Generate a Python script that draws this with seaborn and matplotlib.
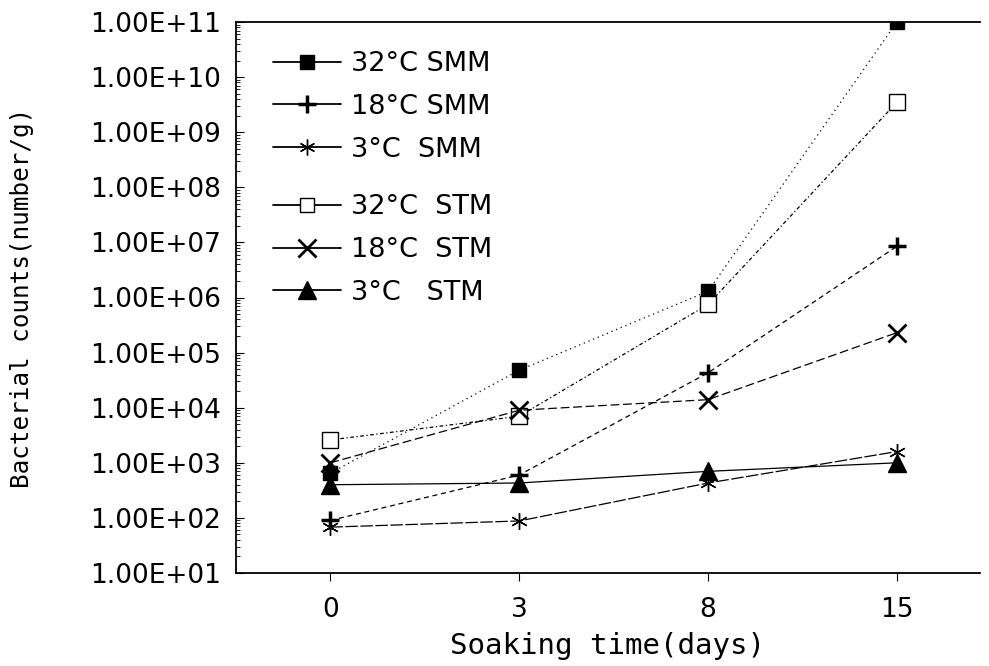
import numpy as np
import pandas as pd
import matplotlib
matplotlib.use("Agg")
import matplotlib.pyplot as plt
import seaborn as sns
from matplotlib.ticker import LogLocator, NullFormatter
from matplotlib.lines import Line2D

days = ["0", "3", "8", "15"]
series_names = ["32°C SMM", "18°C SMM", "3°C  SMM", "32°C  STM", "18°C  STM", "3°C   STM"]
smm_32 = [6.5e2, 4.8e4, 1.3e6, 1.0e11]
smm_18 = [9.0e1, 6.0e2, 4.3e4, 8.5e6]
smm_3 = [6.8e1, 8.8e1, 4.3e2, 1.6e3]
stm_32 = [2.6e3, 7.0e3, 7.5e5, 3.5e9]
stm_18 = [1.0e3, 9.0e3, 1.4e4, 2.3e5]
stm_3 = [4.0e2, 4.3e2, 7.0e2, 1.0e3]
values = [smm_32, smm_18, smm_3, stm_32, stm_18, stm_3]

rows = []
for name, vals in zip(series_names, values):
    for i, (d, v) in enumerate(zip(days, vals)):
        rows.append({"series": name, "pos": i, "day": d, "count": v})
df = pd.DataFrame(rows)

sns.set_style("ticks")
plt.rcParams["font.family"] = ["DejaVu Sans"]
for key in ["text.color", "axes.labelcolor", "xtick.color", "ytick.color", "axes.edgecolor"]:
    plt.rcParams[key] = "black"

fig = plt.figure(figsize=(9.89, 6.66), dpi=100)
ax = fig.add_axes([236/989, 1-573/666, (980-236)/989, (573-22)/666])

styles = [
    dict(marker="s", ms=10, mfc="black", mew=1.0, dash=(1, 3)),
    dict(marker="+", ms=13, mfc="black", mew=2.5, dash=(4, 3)),
    dict(marker=(6, 2, 0), ms=12, mfc="black", mew=1.0, dash=(10, 2)),
    dict(marker="s", ms=11, mfc="white", mew=1.0, dash=(3, 2, 1, 2)),
    dict(marker="x", ms=13, mfc="black", mew=2.0, dash=(7, 3)),
    dict(marker="^", ms=13, mfc="black", mew=1.0, dash=None),
]

handles = []
for name, st in zip(series_names, styles):
    sub = df[df["series"] == name]
    kw = dict(color="black", linewidth=0.9, marker=st["marker"], markersize=st["ms"],
              markerfacecolor=st["mfc"], markeredgecolor="black", markeredgewidth=st["mew"])
    if st["dash"] is not None:
        kw["dashes"] = st["dash"]
    sns.lineplot(data=sub, x="pos", y="count", ax=ax, legend=False, **kw)
    handles.append(Line2D([], [], color="black", linewidth=1.3, marker=st["marker"],
                          markersize=st["ms"] * 0.95, markerfacecolor=st["mfc"],
                          markeredgecolor="black", markeredgewidth=st["mew"]))

ax.set_yscale("log")
ax.set_ylim(1e1, 1e11)
ax.set_xlim(-0.5, 3.44)
ax.set_xticks(range(len(days)))
ax.set_xticklabels(days)
ax.set_yticks([10.0**k for k in range(1, 12)])
ax.set_yticklabels(["1.00E+%02d" % k for k in range(1, 12)])
ax.yaxis.set_minor_locator(LogLocator(base=10, subs=np.arange(2, 10), numticks=20))
ax.yaxis.set_minor_formatter(NullFormatter())
ax.tick_params(axis="y", which="major", direction="in", length=6, labelsize=19, pad=11)
ax.tick_params(axis="y", which="minor", direction="in", length=3)
ax.tick_params(axis="x", which="major", direction="out", length=6, labelsize=19, pad=11)

for s in ["top", "left", "bottom"]:
    ax.spines[s].set_linewidth(1.3)
ax.spines["right"].set_visible(False)

ax.set_xlabel("Soaking time(days)", fontsize=21, family="DejaVu Sans Mono", labelpad=7)
ax.set_ylabel("Bacterial counts(number/g)", fontsize=17.5, family="DejaVu Sans Mono", labelpad=40)

leg_kw = dict(loc="upper left", frameon=False, fontsize=19.5, handlelength=2.5,
              labelspacing=0.62, handletextpad=0.4, borderaxespad=0.0)
leg1 = ax.legend(handles[:3], series_names[:3], bbox_to_anchor=(0.035, 0.967), **leg_kw)
ax.add_artist(leg1)
ax.legend(handles[3:], series_names[3:], bbox_to_anchor=(0.035, 0.707), **leg_kw)

fig.savefig("out.png", dpi=100)
